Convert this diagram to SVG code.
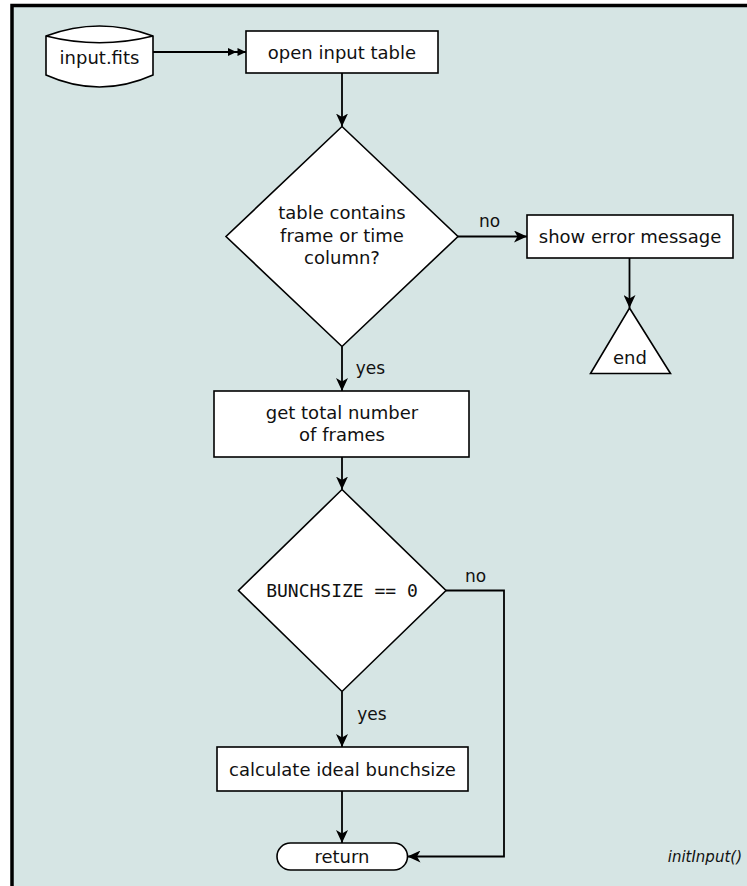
<svg xmlns="http://www.w3.org/2000/svg" width="747" height="886" viewBox="0 0 747 886">
  <style>
    .shape { fill: #ffffff; stroke: #000000; stroke-width: 1.6; }
    .edge { fill: none; stroke: #000000; stroke-width: 1.8; }
    .t { font-family: "DejaVu Sans", "Liberation Sans", sans-serif; font-size: 18px; fill: #111111; text-anchor: middle; }
    .mono { font-family: "DejaVu Sans Mono", "Liberation Mono", monospace; font-size: 18px; fill: #111111; text-anchor: middle; }
    .lbl { font-family: "DejaVu Sans", "Liberation Sans", sans-serif; font-size: 17px; fill: #111111; text-anchor: middle; }
    .title { font-family: "DejaVu Sans", "Liberation Sans", sans-serif; font-size: 15px; font-style: italic; fill: #111111; text-anchor: end; }
  </style>
  <defs>
    <marker id="arrow" markerUnits="userSpaceOnUse" viewBox="0 0 13 12" refX="13" refY="6" markerWidth="13" markerHeight="12" orient="auto">
      <path d="M0,0 L13,6 L0,12 L3.5,6 z" fill="#000000"/>
    </marker>
    <marker id="arrow2" markerUnits="userSpaceOnUse" viewBox="0 0 18 8" refX="18" refY="4" markerWidth="18" markerHeight="8" orient="auto">
      <path d="M0,0 L8.5,4 L0,8 z M9.5,0 L18,4 L9.5,8 z" fill="#000000"/>
    </marker>
  </defs>

  <!-- panel -->
  <rect x="12" y="5.5" width="760" height="900" fill="#d6e5e4" stroke="#000000" stroke-width="3.5"/>

  <!-- connectors -->
  <g id="connectors">
    <path class="edge" d="M153,52 H246" marker-end="url(#arrow2)"/>
    <path class="edge" d="M342,73 V126.5" marker-end="url(#arrow)"/>
    <path class="edge" d="M458,236.5 H527" marker-end="url(#arrow)"/>
    <path class="edge" d="M629.5,258 V308" marker-end="url(#arrow)"/>
    <path class="edge" d="M342,346.5 V391" marker-end="url(#arrow)"/>
    <path class="edge" d="M342,457 V489.5" marker-end="url(#arrow)"/>
    <path class="edge" d="M446,590.5 H504 V856.5 H407.5" marker-end="url(#arrow)"/>
    <path class="edge" d="M342,691.5 V747" marker-end="url(#arrow)"/>
    <path class="edge" d="M342,791 V843" marker-end="url(#arrow)"/>
    <text class="lbl" x="489.5" y="227">no</text>
    <text class="lbl" x="370.5" y="374">yes</text>
    <text class="lbl" x="475.5" y="582">no</text>
    <text class="lbl" x="372" y="720">yes</text>
  </g>

  <!-- nodes -->
  <g id="input-fits">
    <path class="shape" d="M46,36 Q99.5,16 153,36 V75 Q99.5,99 46,75 Z"/>
    <path class="edge" style="stroke-width:1.6" d="M46,36 Q99.5,49.5 153,36"/>
    <text class="t" x="99.5" y="64">input.fits</text>
  </g>

  <g id="open-input-table">
    <rect class="shape" x="246" y="31" width="192" height="42"/>
    <text class="t" x="342" y="58.5">open input table</text>
  </g>

  <g id="check-columns">
    <polygon class="shape" points="342,126.5 458,236.5 342,346.5 226,236.5"/>
    <text class="t" x="342" y="219">table contains</text>
    <text class="t" x="342" y="241.5">frame or time</text>
    <text class="t" x="342" y="264">column?</text>
  </g>

  <g id="show-error">
    <rect class="shape" x="527" y="215" width="206" height="43"/>
    <text class="t" x="630" y="243">show error message</text>
  </g>

  <g id="end">
    <polygon class="shape" points="629.5,308 670.5,373.5 590.5,373.5"/>
    <text class="t" x="630" y="364">end</text>
  </g>

  <g id="total-frames">
    <rect class="shape" x="214" y="391" width="255" height="66"/>
    <text class="t" x="342" y="419">get total number</text>
    <text class="t" x="342" y="441">of frames</text>
  </g>

  <g id="check-bunchsize">
    <polygon class="shape" points="342,489.5 446,590.5 342,691.5 238.5,590.5"/>
    <text class="mono" x="342" y="597">BUNCHSIZE == 0</text>
  </g>

  <g id="calc-bunchsize">
    <rect class="shape" x="217" y="747" width="251" height="44"/>
    <text class="t" x="342.5" y="775.5">calculate ideal bunchsize</text>
  </g>

  <g id="return">
    <rect class="shape" x="277" y="843" width="130.5" height="27" rx="13.5" ry="13.5"/>
    <text class="t" x="342" y="863">return</text>
  </g>

  <text class="title" x="742" y="862">initInput()</text>
</svg>
